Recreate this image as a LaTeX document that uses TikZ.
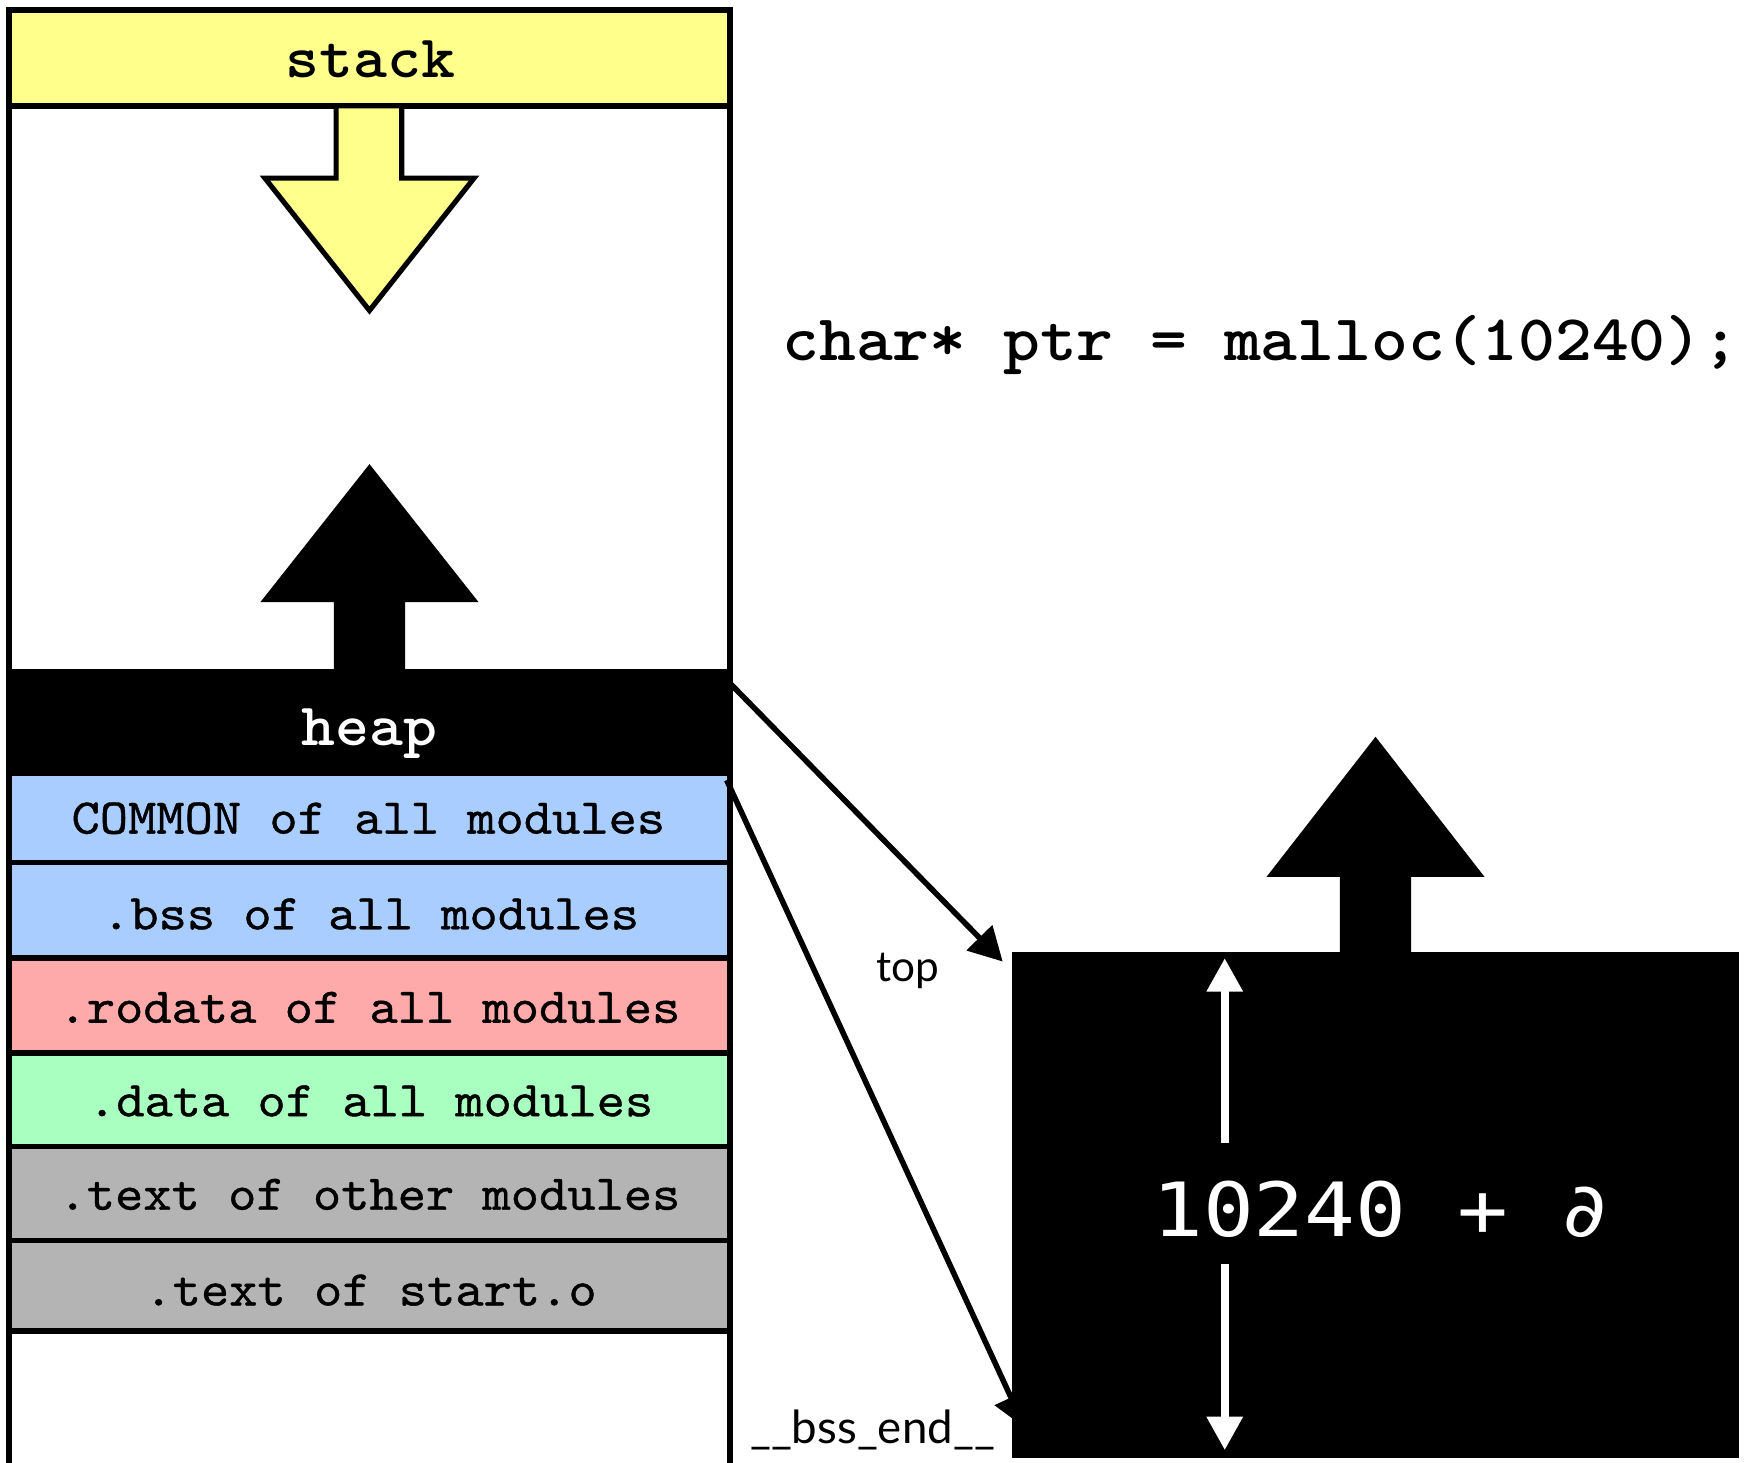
\documentclass[tikz,border=0pt]{standalone}
\usepackage{fontspec}
\usetikzlibrary{arrows.meta,calc}
\newfontfamily\courr[FakeStretch=1.075,FakeBold=0.8]{lmmono10-regular.otf}
\newfontfamily\courb[FakeStretch=1.075]{lmmonolt10-bold.otf}
\newfontfamily\monac[FakeStretch=1.13]{DejaVu Sans Mono}
\newfontfamily\gill{Lato}
\definecolor{stackyel}{RGB}{255,255,140}
\definecolor{bssblue}{RGB}{170,205,255}
\definecolor{ropink}{RGB}{255,170,170}
\definecolor{datagreen}{RGB}{168,255,192}
\definecolor{textgray}{RGB}{180,180,180}
\begin{document}
\begin{tikzpicture}[x=0.5pt,y=-0.5pt,
  band/.style={draw=black, line width=2.5pt, minimum width=324pt, inner sep=0pt, outer sep=0pt, anchor=north west},
  seglabel/.style={font={\fontsize{22.5pt}{26pt}\selectfont\courr}, inner sep=0pt, anchor=base},
  boldlabel/.style={font={\fontsize{27pt}{31pt}\selectfont\courb}, inner sep=0pt, anchor=base},
  codelabel/.style={font={\fontsize{29.3pt}{34pt}\selectfont\courb}, inner sep=0pt, anchor=base},
  sanslabel/.style={font={\fontsize{19pt}{23pt}\selectfont\gill}, inner sep=0pt, anchor=base},
  pointer/.style={line width=2.5pt, -{Triangle[length=15pt,width=15.75pt]}},
  whitearr/.style={white, line width=3.4pt, -{Triangle[length=15pt,width=15.5pt]}}]
\useasboundingbox (0,0) rectangle (1568,1314);
\clip (0,0) rectangle (1568,1314);
\fill[white] (0,0) rectangle (1568,1314);

% memory bands
\node[band, fill=stackyel, minimum height=43pt] (stack) at (8,9) {};
\node[band, fill=black, minimum height=45.5pt] (heap) at (8,604) {};
\node[band, fill=bssblue, minimum height=40pt] (common) at (8,695) {};
\node[band, fill=bssblue, minimum height=43pt] (bss) at (8,775) {};
\node[band, fill=ropink, minimum height=42.5pt] (rodata) at (8,861) {};
\node[band, fill=datagreen, minimum height=42pt] (data) at (8,946) {};
\node[band, fill=textgray, minimum height=42.25pt] (textother) at (8,1030) {};
\node[band, fill=textgray, minimum height=40.75pt] (textstart) at (8,1114.5) {};

% outer frame
\draw[line width=2.5pt] (8,1330) -- (8,9) -- (656,9) -- (656,1330);

% stack grows down
\draw[fill=stackyel, line width=2.3pt, line join=miter]
  (302,95) -- (361,95) -- (361,160) -- (426,160) -- (332,279) -- (238,160) -- (302,160) -- cycle;
% heap grows up
\fill[black] (300,606) -- (300,541) -- (234,541) -- (332,417) -- (430,541) -- (364,541) -- (364,606) -- cycle;

% labels
\node[boldlabel] (tstack) at (333,70) {stack};
\node[boldlabel, text=white] (theap) at (332,670) {heap};
\node[seglabel] (tcommon) at (331,749) {COMMON of all modules};
\node[seglabel] (tbss) at (333,835) {.bss of all modules};
\node[seglabel] (trodata) at (332,919) {.rodata of all modules};
\node[seglabel] (tdata) at (333,1003) {.data of all modules};
\node[seglabel] (ttextother) at (332,1087) {.text of other modules};
\node[seglabel] (ttextstart) at (333,1173) {.text of start.o};

% code
\node[codelabel] (code) at (1133,323.5) {char* ptr = malloc(10240);};

% allocated block
\node[fill=black, inner sep=0pt, outer sep=0pt, minimum width=327pt, minimum height=227.5pt, anchor=north west] (block) at (909,855) {};
\fill[black] (1204,857) -- (1204,788) -- (1138,788) -- (1236,662) -- (1334,788) -- (1268,788) -- (1268,857) -- cycle;

\node[font={\fontsize{33.6pt}{40pt}\selectfont\monac}, text=white, inner sep=0pt] (size) at (1241,1086.5) {10240 + ∂};
\coordinate (upstart) at (1100.5,1027);
\coordinate (uptip) at (1100.5,861);
\coordinate (downstart) at (1100.5,1136);
\coordinate (downtip) at (1100.5,1303);
\draw[whitearr] (upstart) -- (uptip);
\draw[whitearr] (downstart) -- (downtip);

% pointers
\coordinate (heaptop) at (656,614);
\coordinate (heapbot) at (653,701);
\coordinate (toptip) at (901,864);
\coordinate (endtip) at (921,1283);
\draw[pointer] (heaptop) -- (toptip);
\draw[pointer] (heapbot) -- (endtip);

\node[sanslabel] (ltop) at (816,882) {top};
\node[sanslabel, font={\fontsize{20.5pt}{24pt}\selectfont\gill}] (lend) at (784,1297) {\_\_bss\_end\_\_};
\end{tikzpicture}
\end{document}
